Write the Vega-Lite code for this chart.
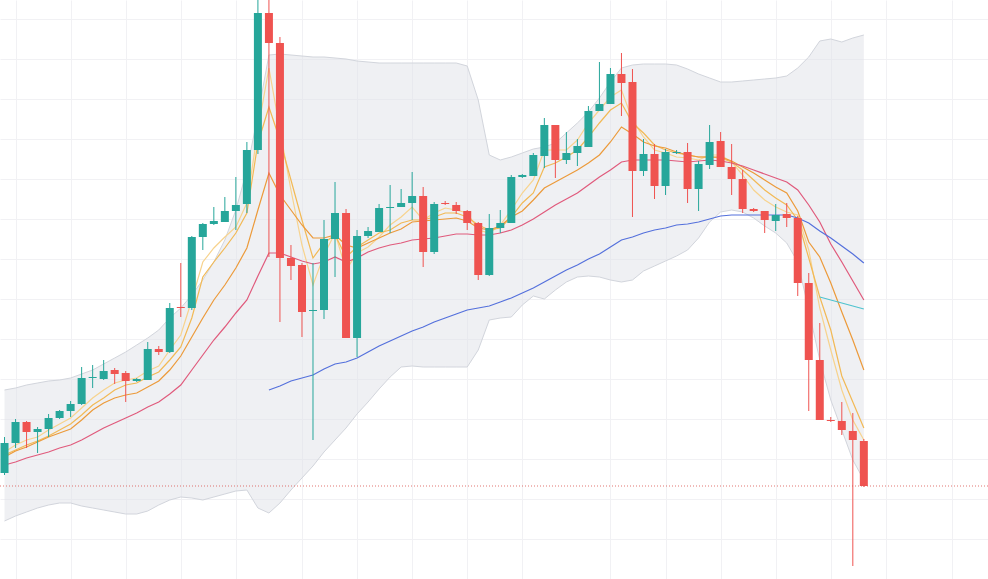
{
  "$schema": "https://vega.github.io/schema/vega-lite/v6.json",
  "width": 988,
  "height": 579,
  "padding": 0,
  "autosize": {"type": "none"},
  "background": "#ffffff",
  "config": {
    "view": {"stroke": null},
    "axis": {"grid": true, "gridColor": "#f1f1f4", "gridWidth": 1, "labels": false, "ticks": false, "domain": false, "title": null}
  },
  "datasets": {
    "candles": [
      {"i": 0, "o": 106, "h": 142, "l": 104, "c": 136},
      {"i": 1, "o": 136, "h": 160, "l": 131, "c": 157},
      {"i": 2, "o": 157, "h": 158, "l": 131, "c": 147},
      {"i": 3, "o": 147, "h": 152, "l": 126, "c": 150},
      {"i": 4, "o": 150, "h": 165, "l": 142, "c": 161},
      {"i": 5, "o": 161, "h": 169, "l": 160, "c": 168},
      {"i": 6, "o": 168, "h": 178, "l": 162, "c": 175},
      {"i": 7, "o": 175, "h": 212, "l": 174, "c": 201},
      {"i": 8, "o": 201, "h": 214, "l": 191, "c": 202},
      {"i": 9, "o": 200, "h": 219, "l": 199, "c": 208},
      {"i": 10, "o": 209, "h": 211, "l": 195, "c": 205},
      {"i": 11, "o": 206, "h": 208, "l": 177, "c": 198},
      {"i": 12, "o": 198, "h": 201, "l": 197, "c": 200},
      {"i": 13, "o": 199, "h": 237, "l": 199, "c": 230},
      {"i": 14, "o": 230, "h": 233, "l": 224, "c": 227},
      {"i": 15, "o": 227, "h": 276, "l": 226, "c": 271},
      {"i": 16, "o": 272, "h": 316, "l": 262, "c": 271},
      {"i": 17, "o": 271, "h": 343, "l": 269, "c": 342},
      {"i": 18, "o": 342, "h": 356, "l": 329, "c": 355},
      {"i": 19, "o": 355, "h": 372, "l": 354, "c": 358},
      {"i": 20, "o": 357, "h": 382, "l": 357, "c": 368},
      {"i": 21, "o": 368, "h": 402, "l": 349, "c": 374},
      {"i": 22, "o": 375, "h": 437, "l": 366, "c": 429},
      {"i": 23, "o": 429, "h": 587, "l": 425, "c": 566},
      {"i": 24, "o": 566, "h": 587, "l": 322, "c": 536},
      {"i": 25, "o": 536, "h": 542, "l": 257, "c": 321},
      {"i": 26, "o": 321, "h": 334, "l": 299, "c": 313},
      {"i": 27, "o": 314, "h": 316, "l": 242, "c": 267},
      {"i": 28, "o": 268, "h": 316, "l": 139, "c": 269},
      {"i": 29, "o": 269, "h": 359, "l": 260, "c": 340},
      {"i": 30, "o": 340, "h": 397, "l": 302, "c": 366},
      {"i": 31, "o": 366, "h": 370, "l": 241, "c": 241},
      {"i": 32, "o": 241, "h": 349, "l": 222, "c": 343},
      {"i": 33, "o": 343, "h": 352, "l": 341, "c": 348},
      {"i": 34, "o": 347, "h": 375, "l": 347, "c": 371},
      {"i": 35, "o": 371, "h": 394, "l": 346, "c": 372},
      {"i": 36, "o": 372, "h": 390, "l": 372, "c": 376},
      {"i": 37, "o": 376, "h": 407, "l": 359, "c": 383},
      {"i": 38, "o": 383, "h": 392, "l": 312, "c": 327},
      {"i": 39, "o": 327, "h": 377, "l": 325, "c": 375},
      {"i": 40, "o": 376, "h": 378, "l": 374, "c": 375},
      {"i": 41, "o": 374, "h": 377, "l": 365, "c": 368},
      {"i": 42, "o": 368, "h": 369, "l": 349, "c": 356},
      {"i": 43, "o": 356, "h": 357, "l": 299, "c": 304},
      {"i": 44, "o": 304, "h": 365, "l": 303, "c": 351},
      {"i": 45, "o": 351, "h": 369, "l": 346, "c": 356},
      {"i": 46, "o": 356, "h": 404, "l": 356, "c": 402},
      {"i": 47, "o": 402, "h": 405, "l": 401, "c": 404},
      {"i": 48, "o": 403, "h": 426, "l": 403, "c": 424},
      {"i": 49, "o": 423, "h": 461, "l": 411, "c": 454},
      {"i": 50, "o": 454, "h": 454, "l": 401, "c": 419},
      {"i": 51, "o": 419, "h": 447, "l": 415, "c": 426},
      {"i": 52, "o": 426, "h": 440, "l": 413, "c": 433},
      {"i": 53, "o": 432, "h": 473, "l": 432, "c": 468},
      {"i": 54, "o": 468, "h": 517, "l": 468, "c": 475},
      {"i": 55, "o": 475, "h": 511, "l": 475, "c": 505},
      {"i": 56, "o": 505, "h": 526, "l": 463, "c": 496},
      {"i": 57, "o": 497, "h": 510, "l": 362, "c": 408},
      {"i": 58, "o": 408, "h": 440, "l": 403, "c": 425},
      {"i": 59, "o": 425, "h": 435, "l": 380, "c": 393},
      {"i": 60, "o": 393, "h": 430, "l": 384, "c": 427},
      {"i": 61, "o": 426, "h": 429, "l": 425, "c": 427},
      {"i": 62, "o": 427, "h": 436, "l": 376, "c": 390},
      {"i": 63, "o": 390, "h": 418, "l": 368, "c": 415},
      {"i": 64, "o": 414, "h": 454, "l": 410, "c": 437},
      {"i": 65, "o": 438, "h": 447, "l": 412, "c": 412},
      {"i": 66, "o": 412, "h": 435, "l": 384, "c": 400},
      {"i": 67, "o": 400, "h": 409, "l": 366, "c": 370},
      {"i": 68, "o": 370, "h": 371, "l": 367, "c": 368},
      {"i": 69, "o": 368, "h": 368, "l": 346, "c": 359},
      {"i": 70, "o": 358, "h": 375, "l": 348, "c": 364},
      {"i": 71, "o": 365, "h": 376, "l": 352, "c": 361},
      {"i": 72, "o": 361, "h": 363, "l": 283, "c": 296},
      {"i": 73, "o": 296, "h": 306, "l": 168, "c": 219},
      {"i": 74, "o": 219, "h": 256, "l": 159, "c": 159},
      {"i": 75, "o": 159, "h": 162, "l": 157, "c": 158},
      {"i": 76, "o": 158, "h": 177, "l": 144, "c": 149},
      {"i": 77, "o": 148, "h": 166, "l": 13, "c": 139},
      {"i": 78, "o": 138, "h": 140, "l": 92, "c": 93}
    ],
    "ind": [
      {"i": 0, "ma5": 127, "ma10": 124, "ma20": 122, "ma30": 114, "ma60": null, "ma120": null, "bu": 189, "bl": 58},
      {"i": 1, "ma5": 134, "ma10": 129, "ma20": 128, "ma30": 117, "ma60": null, "ma120": null, "bu": 191, "bl": 63},
      {"i": 2, "ma5": 139, "ma10": 134, "ma20": 132, "ma30": 121, "ma60": null, "ma120": null, "bu": 194, "bl": 67},
      {"i": 3, "ma5": 142, "ma10": 138, "ma20": 137, "ma30": 124, "ma60": null, "ma120": null, "bu": 196, "bl": 71},
      {"i": 4, "ma5": 149, "ma10": 143, "ma20": 142, "ma30": 127, "ma60": null, "ma120": null, "bu": 198, "bl": 74},
      {"i": 5, "ma5": 155, "ma10": 149, "ma20": 146, "ma30": 131, "ma60": null, "ma120": null, "bu": 199, "bl": 76},
      {"i": 6, "ma5": 161, "ma10": 155, "ma20": 150, "ma30": 134, "ma60": null, "ma120": null, "bu": 201, "bl": 76},
      {"i": 7, "ma5": 171, "ma10": 164, "ma20": 159, "ma30": 139, "ma60": null, "ma120": null, "bu": 205, "bl": 73},
      {"i": 8, "ma5": 181, "ma10": 174, "ma20": 169, "ma30": 145, "ma60": null, "ma120": null, "bu": 209, "bl": 71},
      {"i": 9, "ma5": 189, "ma10": 181, "ma20": 176, "ma30": 151, "ma60": null, "ma120": null, "bu": 215, "bl": 69},
      {"i": 10, "ma5": 196, "ma10": 189, "ma20": 181, "ma30": 156, "ma60": null, "ma120": null, "bu": 221, "bl": 67},
      {"i": 11, "ma5": 199, "ma10": 194, "ma20": 184, "ma30": 161, "ma60": null, "ma120": null, "bu": 227, "bl": 65},
      {"i": 12, "ma5": 201, "ma10": 196, "ma20": 186, "ma30": 166, "ma60": null, "ma120": null, "bu": 234, "bl": 65},
      {"i": 13, "ma5": 208, "ma10": 202, "ma20": 192, "ma30": 172, "ma60": null, "ma120": null, "bu": 241, "bl": 68},
      {"i": 14, "ma5": 213, "ma10": 207, "ma20": 198, "ma30": 177, "ma60": null, "ma120": null, "bu": 249, "bl": 74},
      {"i": 15, "ma5": 229, "ma10": 219, "ma20": 209, "ma30": 185, "ma60": null, "ma120": null, "bu": 261, "bl": 79},
      {"i": 16, "ma5": 244, "ma10": 232, "ma20": 223, "ma30": 194, "ma60": null, "ma120": null, "bu": 271, "bl": 82},
      {"i": 17, "ma5": 279, "ma10": 261, "ma20": 242, "ma30": 209, "ma60": null, "ma120": null, "bu": 284, "bl": 81},
      {"i": 18, "ma5": 317, "ma10": 302, "ma20": 261, "ma30": 224, "ma60": null, "ma120": null, "bu": 299, "bl": 79},
      {"i": 19, "ma5": 331, "ma10": 317, "ma20": 279, "ma30": 239, "ma60": null, "ma120": null, "bu": 317, "bl": 82},
      {"i": 20, "ma5": 342, "ma10": 331, "ma20": 294, "ma30": 252, "ma60": null, "ma120": null, "bu": 339, "bl": 85},
      {"i": 21, "ma5": 352, "ma10": 346, "ma20": 311, "ma30": 266, "ma60": null, "ma120": null, "bu": 369, "bl": 88},
      {"i": 22, "ma5": 376, "ma10": 366, "ma20": 331, "ma30": 279, "ma60": null, "ma120": null, "bu": 409, "bl": 89},
      {"i": 23, "ma5": 449, "ma10": 436, "ma20": 369, "ma30": 303, "ma60": null, "ma120": null, "bu": 464, "bl": 71},
      {"i": 24, "ma5": 511, "ma10": 472, "ma20": 406, "ma30": 326, "ma60": 189, "ma120": null, "bu": 524, "bl": 66},
      {"i": 25, "ma5": 449, "ma10": 439, "ma20": 384, "ma30": 326, "ma60": 193, "ma120": null, "bu": 525, "bl": 76},
      {"i": 26, "ma5": 389, "ma10": 399, "ma20": 369, "ma30": 322, "ma60": 198, "ma120": null, "bu": 524, "bl": 89},
      {"i": 27, "ma5": 334, "ma10": 359, "ma20": 354, "ma30": 318, "ma60": 201, "ma120": null, "bu": 523, "bl": 101},
      {"i": 28, "ma5": 294, "ma10": 321, "ma20": 341, "ma30": 315, "ma60": 204, "ma120": null, "bu": 522, "bl": 113},
      {"i": 29, "ma5": 324, "ma10": 336, "ma20": 341, "ma30": 317, "ma60": 210, "ma120": null, "bu": 522, "bl": 127},
      {"i": 30, "ma5": 346, "ma10": 344, "ma20": 344, "ma30": 322, "ma60": 215, "ma120": null, "bu": 521, "bl": 139},
      {"i": 31, "ma5": 309, "ma10": 322, "ma20": 334, "ma30": 317, "ma60": 217, "ma120": null, "bu": 520, "bl": 151},
      {"i": 32, "ma5": 326, "ma10": 332, "ma20": 331, "ma30": 321, "ma60": 221, "ma120": null, "bu": 518, "bl": 165},
      {"i": 33, "ma5": 332, "ma10": 339, "ma20": 336, "ma30": 327, "ma60": 227, "ma120": null, "bu": 517, "bl": 177},
      {"i": 34, "ma5": 342, "ma10": 346, "ma20": 341, "ma30": 331, "ma60": 233, "ma120": null, "bu": 516, "bl": 190},
      {"i": 35, "ma5": 354, "ma10": 349, "ma20": 346, "ma30": 334, "ma60": 238, "ma120": null, "bu": 516, "bl": 202},
      {"i": 36, "ma5": 362, "ma10": 356, "ma20": 350, "ma30": 336, "ma60": 243, "ma120": null, "bu": 516, "bl": 212},
      {"i": 37, "ma5": 372, "ma10": 359, "ma20": 357, "ma30": 339, "ma60": 248, "ma120": null, "bu": 516, "bl": 213},
      {"i": 38, "ma5": 359, "ma10": 359, "ma20": 358, "ma30": 340, "ma60": 252, "ma120": null, "bu": 516, "bl": 212},
      {"i": 39, "ma5": 366, "ma10": 362, "ma20": 359, "ma30": 341, "ma60": 257, "ma120": null, "bu": 516, "bl": 212},
      {"i": 40, "ma5": 371, "ma10": 366, "ma20": 360, "ma30": 343, "ma60": 261, "ma120": null, "bu": 516, "bl": 212},
      {"i": 41, "ma5": 369, "ma10": 366, "ma20": 361, "ma30": 345, "ma60": 265, "ma120": null, "bu": 516, "bl": 212},
      {"i": 42, "ma5": 366, "ma10": 362, "ma20": 358, "ma30": 345, "ma60": 269, "ma120": null, "bu": 513, "bl": 212},
      {"i": 43, "ma5": 349, "ma10": 354, "ma20": 351, "ma30": 344, "ma60": 271, "ma120": null, "bu": 479, "bl": 229},
      {"i": 44, "ma5": 346, "ma10": 349, "ma20": 349, "ma30": 344, "ma60": 273, "ma120": null, "bu": 424, "bl": 259},
      {"i": 45, "ma5": 354, "ma10": 351, "ma20": 353, "ma30": 346, "ma60": 277, "ma120": null, "bu": 419, "bl": 261},
      {"i": 46, "ma5": 369, "ma10": 362, "ma20": 362, "ma30": 349, "ma60": 281, "ma120": null, "bu": 422, "bl": 262},
      {"i": 47, "ma5": 386, "ma10": 376, "ma20": 368, "ma30": 354, "ma60": 286, "ma120": null, "bu": 426, "bl": 274},
      {"i": 48, "ma5": 399, "ma10": 386, "ma20": 379, "ma30": 360, "ma60": 291, "ma120": null, "bu": 430, "bl": 283},
      {"i": 49, "ma5": 429, "ma10": 412, "ma20": 391, "ma30": 367, "ma60": 297, "ma120": null, "bu": 432, "bl": 280},
      {"i": 50, "ma5": 429, "ma10": 416, "ma20": 397, "ma30": 374, "ma60": 303, "ma120": null, "bu": 436, "bl": 289},
      {"i": 51, "ma5": 429, "ma10": 422, "ma20": 403, "ma30": 380, "ma60": 309, "ma120": null, "bu": 446, "bl": 297},
      {"i": 52, "ma5": 439, "ma10": 429, "ma20": 409, "ma30": 386, "ma60": 314, "ma120": null, "bu": 456, "bl": 302},
      {"i": 53, "ma5": 456, "ma10": 442, "ma20": 416, "ma30": 394, "ma60": 320, "ma120": null, "bu": 467, "bl": 303},
      {"i": 54, "ma5": 469, "ma10": 456, "ma20": 424, "ma30": 402, "ma60": 325, "ma120": null, "bu": 481, "bl": 302},
      {"i": 55, "ma5": 482, "ma10": 469, "ma20": 437, "ma30": 409, "ma60": 332, "ma120": null, "bu": 497, "bl": 299},
      {"i": 56, "ma5": 489, "ma10": 476, "ma20": 452, "ma30": 417, "ma60": 339, "ma120": null, "bu": 511, "bl": 297},
      {"i": 57, "ma5": 459, "ma10": 456, "ma20": 445, "ma30": 419, "ma60": 342, "ma120": null, "bu": 514, "bl": 299},
      {"i": 58, "ma5": 442, "ma10": 446, "ma20": 437, "ma30": 419, "ma60": 346, "ma120": null, "bu": 515, "bl": 308},
      {"i": 59, "ma5": 429, "ma10": 434, "ma20": 433, "ma30": 419, "ma60": 349, "ma120": null, "bu": 515, "bl": 313},
      {"i": 60, "ma5": 426, "ma10": 429, "ma20": 431, "ma30": 419, "ma60": 351, "ma120": null, "bu": 515, "bl": 318},
      {"i": 61, "ma5": 422, "ma10": 426, "ma20": 427, "ma30": 418, "ma60": 354, "ma120": null, "bu": 514, "bl": 323},
      {"i": 62, "ma5": 421, "ma10": 424, "ma20": 424, "ma30": 417, "ma60": 355, "ma120": null, "bu": 510, "bl": 329},
      {"i": 63, "ma5": 419, "ma10": 422, "ma20": 422, "ma30": 418, "ma60": 357, "ma120": null, "bu": 505, "bl": 341},
      {"i": 64, "ma5": 424, "ma10": 422, "ma20": 422, "ma30": 419, "ma60": 360, "ma120": null, "bu": 501, "bl": 357},
      {"i": 65, "ma5": 424, "ma10": 421, "ma20": 422, "ma30": 418, "ma60": 363, "ma120": null, "bu": 497, "bl": 367},
      {"i": 66, "ma5": 417, "ma10": 417, "ma20": 418, "ma30": 416, "ma60": 364, "ma120": null, "bu": 497, "bl": 369},
      {"i": 67, "ma5": 404, "ma10": 409, "ma20": 412, "ma30": 413, "ma60": 364, "ma120": null, "bu": 498, "bl": 367},
      {"i": 68, "ma5": 389, "ma10": 399, "ma20": 406, "ma30": 409, "ma60": 364, "ma120": null, "bu": 499, "bl": 361},
      {"i": 69, "ma5": 379, "ma10": 389, "ma20": 399, "ma30": 405, "ma60": 364, "ma120": null, "bu": 500, "bl": 353},
      {"i": 70, "ma5": 372, "ma10": 381, "ma20": 392, "ma30": 401, "ma60": 364, "ma120": null, "bu": 501, "bl": 346},
      {"i": 71, "ma5": 367, "ma10": 374, "ma20": 386, "ma30": 397, "ma60": 364, "ma120": null, "bu": 503, "bl": 336},
      {"i": 72, "ma5": 364, "ma10": 359, "ma20": 368, "ma30": 389, "ma60": 361, "ma120": null, "bu": 511, "bl": 317},
      {"i": 73, "ma5": 329, "ma10": 321, "ma20": 337, "ma30": 374, "ma60": 356, "ma120": null, "bu": 522, "bl": 269},
      {"i": 74, "ma5": 271, "ma10": 282, "ma20": 322, "ma30": 357, "ma60": 348, "ma120": 282, "bu": 538, "bl": 219},
      {"i": 75, "ma5": 229, "ma10": 249, "ma20": 296, "ma30": 335, "ma60": 341, "ma120": 279, "bu": 540, "bl": 179},
      {"i": 76, "ma5": 189, "ma10": 203, "ma20": 267, "ma30": 317, "ma60": 333, "ma120": 276, "bu": 537, "bl": 149},
      {"i": 77, "ma5": 159, "ma10": 177, "ma20": 239, "ma30": 298, "ma60": 325, "ma120": 273, "bu": 541, "bl": 119},
      {"i": 78, "ma5": 139, "ma10": 151, "ma20": 209, "ma30": 279, "ma60": 316, "ma120": 270, "bu": 544, "bl": 99}
    ],
    "last": [{"price": 93}]
  },
  "layer": [
    {
      "data": {"name": "ind"},
      "mark": {"type": "area", "color": "#dfe1e7", "opacity": 0.5},
      "encoding": {
        "x": {"field": "i", "type": "quantitative", "scale": {"domain": [-0.41, 89.27], "nice": false, "zero": false, "padding": 0}, "axis": {"values": [1, 6, 11, 16, 21, 27, 32, 37, 42, 47, 55, 60, 65, 70, 75, 80, 86]}},
        "y": {"field": "bu", "type": "quantitative", "scale": {"domain": [0, 579], "nice": false, "zero": false, "padding": 0}, "axis": {"values": [0, 40, 80, 120, 160, 200, 240, 280, 320, 360, 400, 440, 480, 520, 560]}},
        "y2": {"field": "bl"}
      }
    },
    {
      "data": {"name": "ind"},
      "mark": {"type": "line", "color": "#d2d5dc", "strokeWidth": 1},
      "encoding": {
        "x": {"field": "i", "type": "quantitative"},
        "y": {"field": "bu", "type": "quantitative"}
      }
    },
    {
      "data": {"name": "ind"},
      "mark": {"type": "line", "color": "#d2d5dc", "strokeWidth": 1},
      "encoding": {
        "x": {"field": "i", "type": "quantitative"},
        "y": {"field": "bl", "type": "quantitative"}
      }
    },
    {
      "data": {"name": "ind"},
      "transform": [
        {"fold": ["ma5", "ma10", "ma20", "ma30", "ma60", "ma120"], "as": ["series", "value"]},
        {"filter": "isValid(datum.value)"}
      ],
      "mark": {"type": "line", "strokeWidth": 1.2},
      "encoding": {
        "x": {"field": "i", "type": "quantitative"},
        "y": {"field": "value", "type": "quantitative"},
        "color": {
          "field": "series",
          "type": "nominal",
          "scale": {
            "domain": ["ma5", "ma10", "ma20", "ma30", "ma60", "ma120"],
            "range": ["#f7d38e", "#f2b955", "#ec9a3a", "#e05a7c", "#5470dc", "#4fc3cf"]
          },
          "legend": null
        }
      }
    },
    {
      "data": {"name": "candles"},
      "mark": {"type": "rule", "strokeWidth": 1, "clip": true},
      "encoding": {
        "x": {"field": "i", "type": "quantitative"},
        "y": {"field": "l", "type": "quantitative"},
        "y2": {"field": "h"},
        "color": {"condition": {"test": "datum.c >= datum.o", "value": "#26a69a"}, "value": "#ef5350"}
      }
    },
    {
      "data": {"name": "candles"},
      "mark": {"type": "bar", "width": 8, "orient": "vertical", "clip": true},
      "encoding": {
        "x": {"field": "i", "type": "quantitative"},
        "y": {"field": "o", "type": "quantitative"},
        "y2": {"field": "c"},
        "color": {"condition": {"test": "datum.c >= datum.o", "value": "#26a69a"}, "value": "#ef5350"}
      }
    },
    {
      "data": {"name": "last"},
      "mark": {"type": "rule", "color": "#d9534f", "strokeDash": [1, 2], "strokeWidth": 1, "opacity": 0.8},
      "encoding": {
        "y": {"field": "price", "type": "quantitative"}
      }
    }
  ]
}
